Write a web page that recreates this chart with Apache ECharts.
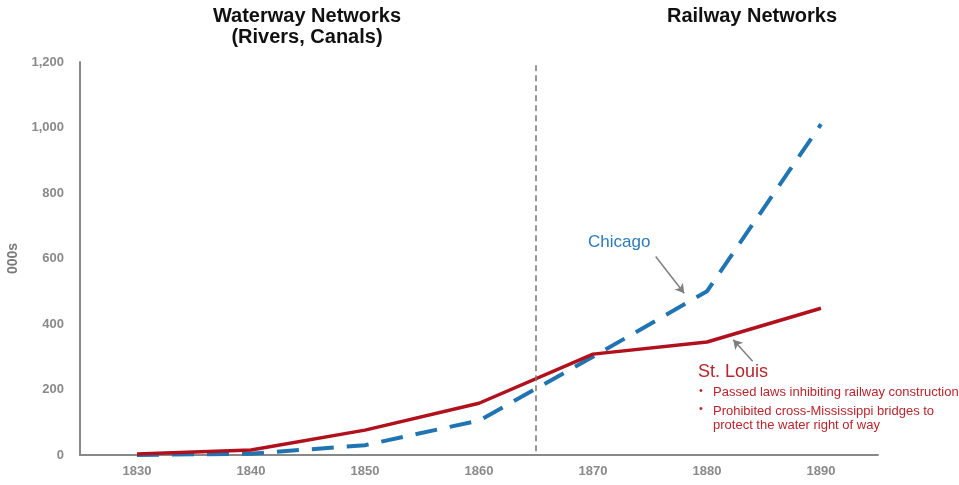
<!DOCTYPE html>
<html>
<head>
<meta charset="utf-8">
<script src="https://cdn.jsdelivr.net/npm/echarts@6/dist/echarts.min.js"></script>
<style>
  html, body { margin: 0; padding: 0; background: #fff; }
  #chart { width: 959px; height: 485px; }
</style>
</head>
<body>
<div id="chart"></div>
<script>
// years and values (thousands)
var years = [1830, 1840, 1850, 1860, 1870, 1880, 1890];
var stLouis = [3, 15, 76, 158, 308, 345, 448];
var chicago = [0, 4, 30, 105, 300, 500, 1010];
var yTicks = [0, 200, 400, 600, 800, 1000, 1200];
var splitYear = 1865;

var mychart = echarts.init(document.getElementById("chart"));

function pairs(xs, ys) {
  return xs.map(function (x, i) { return [x, ys[i]]; });
}

var axisFont = {
  color: "#8a8a8a",
  fontFamily: "Liberation Sans, Arial",
  fontWeight: "bold",
  fontSize: 13
};

var option = {
  animation: false,
  grid: { left: 80, right: 81, top: 62, bottom: 30, outerBoundsMode: "none" },
  title: [
    {
      text: "Waterway Networks\n(Rivers, Canals)",
      left: 302, top: 1, textAlign: "center",
      textStyle: { fontFamily: "Liberation Sans", fontWeight: "bold", fontSize: 20, color: "#111", lineHeight: 21 }
    },
    {
      text: "Railway Networks",
      left: 747, top: 1, textAlign: "center",
      textStyle: { fontFamily: "Liberation Sans", fontWeight: "bold", fontSize: 20, color: "#111", lineHeight: 21 }
    }
  ],
  xAxis: {
    type: "value",
    min: 1825, max: 1895, interval: 5,
    splitLine: { show: false },
    axisTick: { show: false },
    axisLine: { lineStyle: { color: "#888", width: 2 } },
    axisLabel: Object.assign({
      margin: 10,
      showMinLabel: false, showMaxLabel: false,
      formatter: function (v) { return years.indexOf(v) >= 0 ? String(v) : ""; }
    }, axisFont)
  },
  yAxis: {
    type: "value",
    min: yTicks[0], max: yTicks[yTicks.length - 1], interval: 200,
    name: "000s",
    nameLocation: "middle",
    nameGap: 52,
    nameTextStyle: { color: "#7a7a7a", fontFamily: "Liberation Sans", fontWeight: "bold", fontSize: 14 },
    splitLine: { show: false },
    axisTick: { show: false },
    axisLine: { show: true, lineStyle: { color: "#888", width: 2 } },
    axisLabel: Object.assign({
      margin: 16,
      formatter: function (v) { return v.toLocaleString("en-US"); }
    }, axisFont)
  },
  series: [
    {
      name: "St. Louis",
      type: "line",
      data: pairs(years, stLouis),
      symbol: "none",
      lineStyle: { color: "#b0111c", width: 3.5 },
      z: 3,
      markLine: {
        silent: true,
        symbol: ["none", "arrow"],
        symbolSize: [8, 9],
        label: { show: false },
        lineStyle: { color: "#7f7f7f", width: 1.5, type: "solid" },
        data: [[{ coord: [1884.0, 286] }, { coord: [1882.3, 352] }]]
      }
    },
    {
      name: "Chicago",
      type: "line",
      data: pairs(years, chicago),
      symbol: "none",
      lineStyle: { color: "#1f74b1", width: 4, type: [22, 13] },
      z: 2,
      markLine: {
        silent: true,
        symbol: ["none", "arrow"],
        symbolSize: [8, 9],
        label: { show: false },
        lineStyle: { color: "#7f7f7f", width: 1.5, type: "solid" },
        data: [
          [{ coord: [1875.5, 606] }, { coord: [1878.0, 494] }],
          [{ coord: [splitYear, 1190], lineStyle: { color: "#777", width: 1.5, type: [6, 4] }, symbol: "none" },
           { coord: [splitYear, 0], symbol: "none" }]
        ]
      }
    }
  ],
  graphic: [
    { type: "text", left: 588, top: 234,
      style: { text: "Chicago", fill: "#2b7bba", font: "17px Liberation Sans" } },
    { type: "text", left: 698, top: 363,
      style: { text: "St. Louis", fill: "#b8252c", font: "18px Liberation Sans" } },
    { type: "text", left: 699, top: 385,
      style: { text: "•", fill: "#b8252c", font: "11px Liberation Sans" } },
    { type: "text", left: 713, top: 386,
      style: { text: "Passed laws inhibiting railway construction", fill: "#b8252c", font: "13px Liberation Sans" } },
    { type: "text", left: 699, top: 403,
      style: { text: "•", fill: "#b8252c", font: "11px Liberation Sans" } },
    { type: "text", left: 713, top: 404,
      style: { text: "Prohibited cross-Mississippi bridges to\nprotect the water right of way", fill: "#b8252c", font: "13px Liberation Sans", lineHeight: 14 } }
  ]
};
mychart.setOption(option, true);
</script>
</body>
</html>
